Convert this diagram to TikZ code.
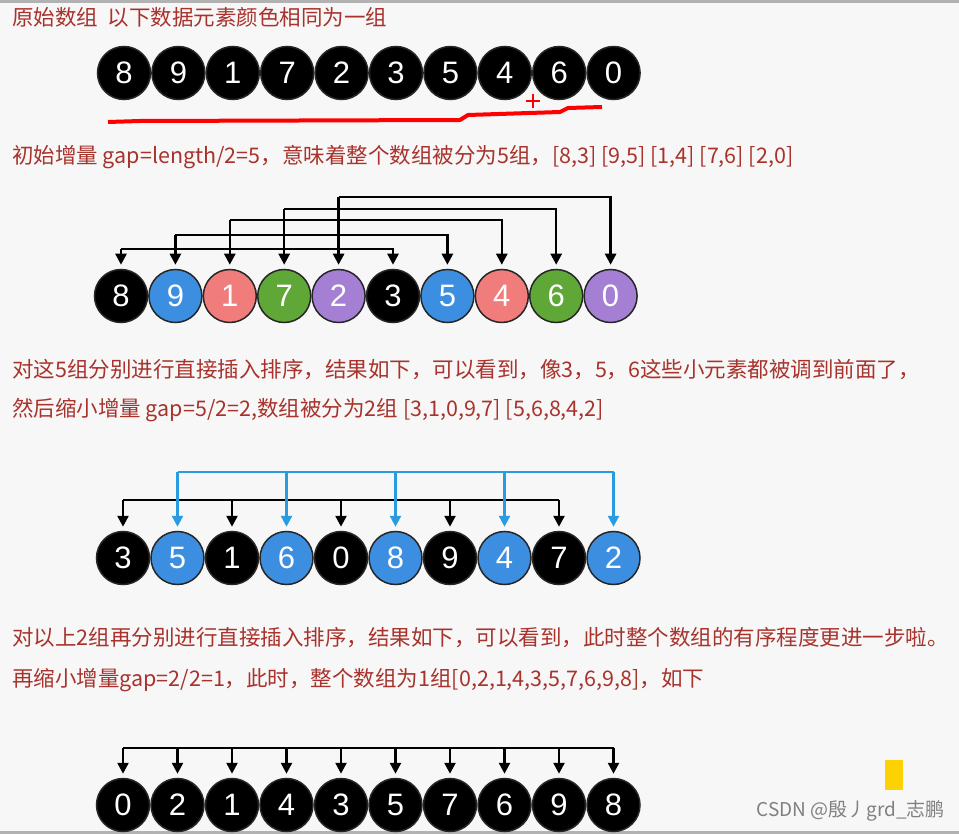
\documentclass[tikz,border=0pt]{standalone}
\usepackage{fontspec}
\setmainfont{Liberation Sans}
\newfontfamily\cjk{Noto Sans CJK SC}
\usetikzlibrary{arrows.meta}
\definecolor{txt}{HTML}{A8322C}
\definecolor{cb}{HTML}{3C8FE0}
\definecolor{cr}{HTML}{F07C7C}
\definecolor{cg}{HTML}{5FA838}
\definecolor{cp}{HTML}{A57FD4}
\definecolor{lb}{HTML}{2A9BE0}
\tikzset{
  ball/.style={circle,draw=black!85,line width=1.5pt,minimum size=53pt,inner sep=0pt,text=white,font=\fontsize{31}{31}\selectfont},
  lab/.style={anchor=west,inner sep=0pt,text=txt,font=\cjk\fontsize{21.5}{21.5}\selectfont},
  con/.style={line width=2.5pt,-{Triangle[length=11pt,width=11pt]}},
}
\begin{document}
\begin{tikzpicture}[x=1pt,y=-1pt]
\fill[white!97!black] (0,0) rectangle (959,834);
\fill[gray!60] (0,0) rectangle (959,3);
\fill[gray!60] (0,831) rectangle (959,834);
\useasboundingbox (0,0) rectangle (959,834);
\node[lab] (t1) at (12,17) {原始数组\ \ 以下数据元素颜色相同为一组};
\node[lab] (t2) at (12,157) {初始增量 gap=length/2=5，意味着整个数组被分为5组，[8,3] [9,5] [1,4] [7,6] [2,0]};
\node[lab] (t3) at (12,370) {对这5组分别进行直接插入排序，结果如下，可以看到，像3，5，6这些小元素都被调到前面了，};
\node[lab] (t4) at (12,410) {然后缩小增量 gap=5/2=2,数组被分为2组 [3,1,0,9,7] [5,6,8,4,2]};
\node[lab] (t5) at (12,638) {对以上2组再分别进行直接插入排序，结果如下，可以看到，此时整个数组的有序程度更进一步啦。};
\node[lab] (t6) at (12,680) {再缩小增量gap=2/2=1，此时，整个数组为1组[0,2,1,4,3,5,7,6,9,8]，如下};
% row 1
\foreach \v [count=\i from 0] in {8,9,1,7,2,3,5,4,6,0}
  \node[ball,fill=black] (a\i) at (124+54.4*\i,73) {\v};
\draw[red,line width=4pt] (108,122) -- (140,121) -- (460,120) -- (468,115) -- (560,112) -- (568,108) -- (602,107);
\draw[red,line width=2.5pt] (526,101) -- (540,101) (533,94) -- (533,108);
% row 2
\foreach \v/\c [count=\i from 0] in {8/black,9/cb,1/cr,7/cg,2/cp,3/black,5/cb,4/cr,6/cg,0/cp}
  \node[ball,fill=\c] (b\i) at (121+54.4*\i,296) {\v};
\foreach \p/\q/\h in {4/9/197,3/8/209,2/7/220,1/6/235,0/5/249}{
  \draw[con] (b\p.north |- 0,\h) -- ([yshift=4pt]b\p.north);
  \draw[con] (b\p.north |- 0,\h) -- (b\q.north |- 0,\h) -- ([yshift=4pt]b\q.north);
}
% row 3
\foreach \v/\c [count=\i from 0] in {3/black,5/cb,1/black,6/cb,0/black,8/cb,9/black,4/cb,7/black,2/cb}
  \node[ball,fill=\c] (c\i) at (123+54.5*\i,558) {\v};
\draw[line width=2.5pt] (c0.north |- 0,500) -- (c8.north |- 0,500);
\foreach \i in {0,2,4,6,8} \draw[con] (c\i.north |- 0,500) -- ([yshift=4pt]c\i.north);
\draw[lb,line width=2.5pt] (c1.north |- 0,472) -- (c9.north |- 0,472);
\foreach \i in {1,3,5,7,9} \draw[con,lb] (c\i.north |- 0,472) -- ([yshift=4pt]c\i.north);
% row 4
\foreach \v [count=\i from 0] in {0,2,1,4,3,5,7,6,9,8}
  \node[ball,fill=black] (d\i) at (123+54.5*\i,805) {\v};
\draw[line width=2.5pt] (d0.north |- 0,748) -- (d9.north |- 0,748);
\foreach \i in {0,...,9} \draw[con] (d\i.north |- 0,748) -- ([yshift=4pt]d\i.north);
% icon + watermark
\fill[yellow!70!orange] (885,760) rectangle (903,790);
\node[anchor=east,inner sep=0pt,text=gray,font=\cjk\fontsize{19}{19}\selectfont] (wm) at (945,811) {CSDN @殷丿grd\_志鹏};
\end{tikzpicture}
\end{document}
